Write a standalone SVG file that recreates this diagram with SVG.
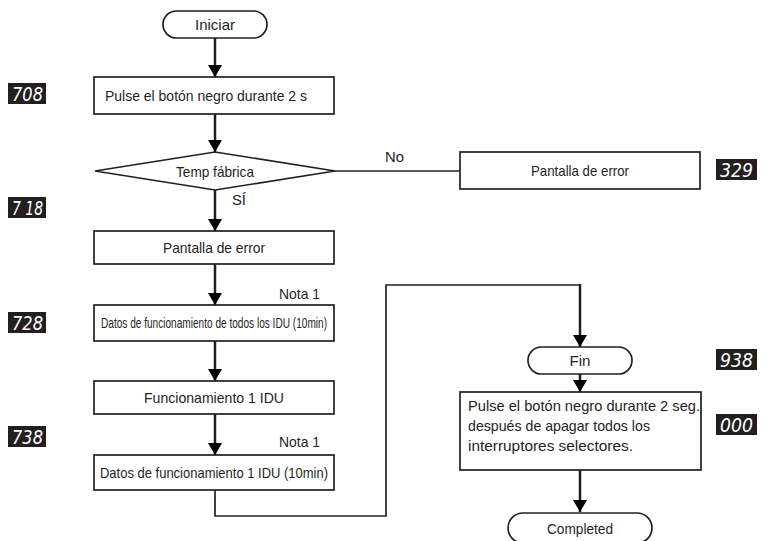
<svg xmlns="http://www.w3.org/2000/svg" width="772" height="541" viewBox="0 0 772 541">
<defs>
<marker id="ah" viewBox="0 0 12 14" refX="12" refY="7" markerWidth="12" markerHeight="14" markerUnits="userSpaceOnUse" orient="auto">
<path d="M0,0 L12,7 L0,14 Z" fill="#000"/>
</marker>
</defs>
<style>
.box{fill:#fff;stroke:#231f20;stroke-width:1.7}
.t{font-family:"Liberation Sans",Arial,sans-serif;font-size:15px;fill:#231f20}
.c{text-anchor:middle}
.arr{fill:none;stroke:#231f20;stroke-width:2.5;marker-end:url(#ah)}
.ln{fill:none;stroke:#231f20;stroke-width:1.7}
.disp{fill:#231f20}
.dt{font-family:"DejaVu Sans",sans-serif;font-size:19px;font-style:italic;font-weight:200;fill:#fff}
</style>
<rect width="772" height="541" fill="#fff"/>

<g id="connectors">
<path class="arr" d="M215,38 V77"/>
<path class="arr" d="M215,114 V152"/>
<path class="ln" d="M335,171 H460"/>
<path class="arr" d="M215,190 V231"/>
<path class="arr" d="M215,264 V305"/>
<path class="arr" d="M215,341 V381"/>
<path class="arr" d="M215,414 V455"/>
<path class="ln" d="M215,490 V516 H386 V285 H580 V300"/>
<path class="arr" d="M580,284 V347"/>
<path class="arr" d="M580,374 V392"/>
<path class="arr" d="M580,470 V512"/>
<text class="t" x="385" y="162" textLength="19" lengthAdjust="spacingAndGlyphs">No</text>
<text class="t" x="232" y="205" textLength="14" lengthAdjust="spacingAndGlyphs">SÍ</text>
<text class="t" x="279" y="299" textLength="41" lengthAdjust="spacingAndGlyphs">Nota 1</text>
<text class="t" x="279" y="447" textLength="41" lengthAdjust="spacingAndGlyphs">Nota 1</text>
</g>

<g id="iniciar">
<rect class="box" x="163" y="11" width="104" height="27" rx="13.5"/>
<text class="t c" x="215" y="30" textLength="40" lengthAdjust="spacingAndGlyphs">Iniciar</text>
</g>

<g id="pulse">
<rect class="box" x="94" y="77" width="240" height="37"/>
<text class="t" x="105" y="101" textLength="202" lengthAdjust="spacingAndGlyphs">Pulse el botón negro durante 2 s</text>
</g>

<g id="temp">
<path class="box" d="M95,171 L215,152 L335,171 L215,190 Z"/>
<text class="t c" x="215" y="177" textLength="78" lengthAdjust="spacingAndGlyphs">Temp fábrica</text>
</g>

<g id="error-no">
<rect class="box" x="460" y="152" width="240" height="37"/>
<text class="t c" x="580" y="176" textLength="98" lengthAdjust="spacingAndGlyphs">Pantalla de error</text>
</g>

<g id="error-si">
<rect class="box" x="94" y="231" width="240" height="33"/>
<text class="t c" x="214" y="253" textLength="102" lengthAdjust="spacingAndGlyphs">Pantalla de error</text>
</g>

<g id="datos-todos">
<rect class="box" x="94" y="305" width="240" height="36"/>
<text class="t" x="101" y="328" font-size="13" textLength="226" lengthAdjust="spacingAndGlyphs">Datos de funcionamiento de todos los IDU (10min)</text>
</g>

<g id="func-1">
<rect class="box" x="94" y="381" width="240" height="33"/>
<text class="t c" x="214" y="403" textLength="140" lengthAdjust="spacingAndGlyphs">Funcionamiento 1 IDU</text>
</g>

<g id="datos-1">
<rect class="box" x="94" y="455" width="240" height="35"/>
<text class="t" x="100" y="478" textLength="228" lengthAdjust="spacingAndGlyphs">Datos de funcionamiento 1 IDU (10min)</text>
</g>

<g id="fin">
<rect class="box" x="528" y="347" width="104" height="27" rx="13.5"/>
<text class="t c" x="580" y="366" textLength="21" lengthAdjust="spacingAndGlyphs">Fin</text>
</g>

<g id="pulse-2">
<rect class="box" x="460" y="392" width="241" height="78"/>
<text class="t" x="468" y="411" textLength="232" lengthAdjust="spacingAndGlyphs">Pulse el botón negro durante 2 seg.</text>
<text class="t" x="468" y="431" textLength="182" lengthAdjust="spacingAndGlyphs">después de apagar todos los</text>
<text class="t" x="468" y="451" textLength="165" lengthAdjust="spacingAndGlyphs">interruptores selectores.</text>
</g>

<g id="completed">
<rect class="box" x="508" y="513" width="144" height="30" rx="15"/>
<text class="t c" x="580" y="534" textLength="66" lengthAdjust="spacingAndGlyphs">Completed</text>
</g>

<g id="disp-708"><rect class="disp" x="8" y="83" width="38" height="21"/><text class="dt" x="12" y="101" textLength="31" lengthAdjust="spacingAndGlyphs">708</text></g>
<g id="disp-718"><rect class="disp" x="8" y="197" width="38" height="21"/><text class="dt" x="12" y="215" textLength="31" lengthAdjust="spacingAndGlyphs">7 18</text></g>
<g id="disp-728"><rect class="disp" x="8" y="312" width="38" height="21"/><text class="dt" x="12" y="330" textLength="31" lengthAdjust="spacingAndGlyphs">728</text></g>
<g id="disp-738"><rect class="disp" x="8" y="426" width="38" height="21"/><text class="dt" x="12" y="444" textLength="31" lengthAdjust="spacingAndGlyphs">738</text></g>
<g id="disp-329"><rect class="disp" x="716" y="159" width="41" height="21"/><text class="dt" x="720" y="177" textLength="33" lengthAdjust="spacingAndGlyphs">329</text></g>
<g id="disp-938"><rect class="disp" x="716" y="349" width="41" height="21"/><text class="dt" x="720" y="367" textLength="33" lengthAdjust="spacingAndGlyphs">938</text></g>
<g id="disp-000"><rect class="disp" x="716" y="414" width="41" height="21"/><text class="dt" x="720" y="432" textLength="33" lengthAdjust="spacingAndGlyphs">000</text></g>
</svg>
